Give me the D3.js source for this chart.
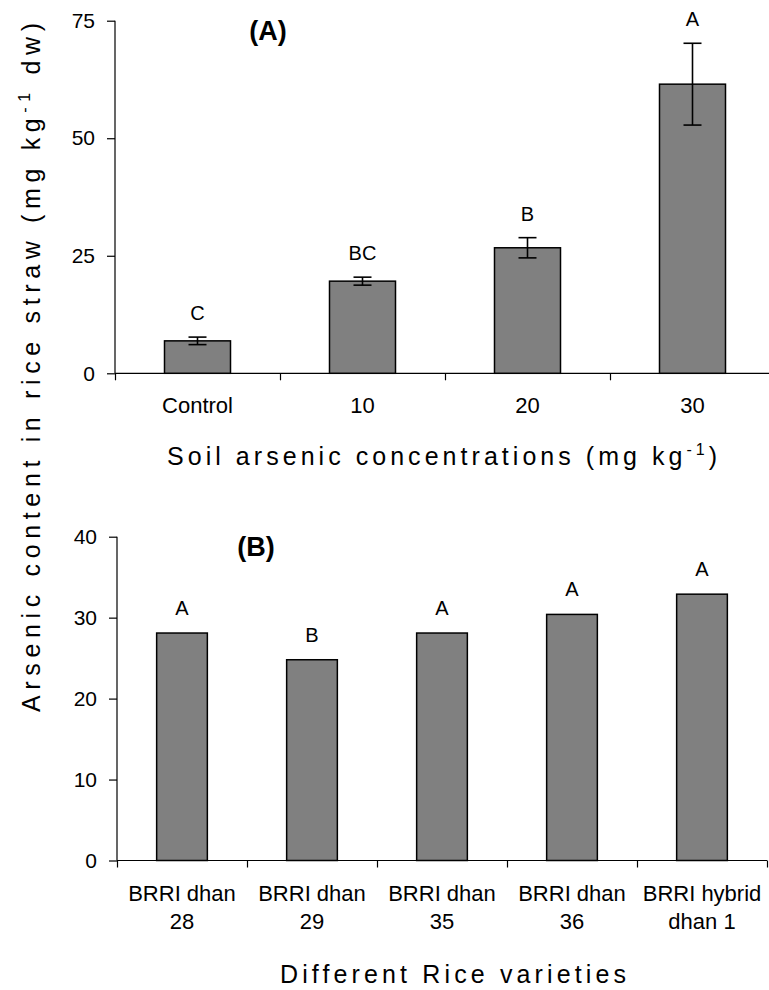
<!DOCTYPE html>
<html>
<head>
<meta charset="utf-8">
<script src="https://cdn.jsdelivr.net/npm/d3@7/dist/d3.min.js"></script>
<style>
  html, body { margin: 0; padding: 0; background: #fff; }
  svg text { font-family: "Liberation Sans", Arial, Helvetica, sans-serif; fill: #000; }
</style>
</head>
<body>
<svg id="chart" width="769" height="990"></svg>
<script>
// ---------- data ----------
const categoriesA = ["Control", "10", "20", "30"];
const valuesA = [6.9, 19.6, 26.7, 61.5];
const errorsA = [0.8, 0.85, 2.15, 8.7];
const lettersA = ["C", "BC", "B", "A"];
const yTicksA = [0, 25, 50, 75];

const categoriesB = ["BRRI dhan|28", "BRRI dhan|29", "BRRI dhan|35", "BRRI dhan|36", "BRRI hybrid|dhan 1"];
const valuesB = [28.1, 24.8, 28.1, 30.4, 32.9];
const lettersB = ["A", "B", "A", "A", "A"];
const yTicksB = [0, 10, 20, 30, 40];

// ---------- drawing ----------
const svg = d3.select("#chart");
const barFill = "#808080";

function panel(opts) {
  const g = svg.append("g");
  const n = opts.cats.length;
  const x = d3.scaleBand().domain(opts.cats).range(opts.xRange).paddingInner(0).paddingOuter(0);
  const xEdge = d3.scaleLinear().domain([0, n]).range(opts.xRange);
  const y = d3.scaleLinear().domain(opts.yDomain).range(opts.yRange);
  const y0 = y(0);

  // y axis
  const ya = g.append("g").attr("transform", `translate(${opts.xRange[0]},0)`)
    .call(d3.axisLeft(y).tickValues(opts.yTicks).tickSize(8).tickPadding(12).tickFormat(d3.format("d")));
  ya.selectAll("text").style("font-size", "21px");
  ya.selectAll("path,line").attr("stroke", "#000").attr("stroke-width", 1.2);
  ya.select(".domain").attr("d", `M0,${opts.yRange[1]}V${y0}`);

  // x axis (boundary ticks)
  const xa = g.append("g").attr("transform", `translate(0,${y0})`)
    .call(d3.axisBottom(xEdge).tickValues(d3.range(n + 1)).tickSize(7).tickFormat(""));
  xa.selectAll("path,line").attr("stroke", "#000").attr("stroke-width", 1.2);
  xa.select(".domain").attr("d", `M${opts.xRange[0]},0H${opts.xRange[1]}`);

  // x labels
  const xl = g.append("g").attr("transform", `translate(0,${y0})`)
    .call(d3.axisBottom(x).tickSize(0).tickPadding(opts.labelPad));
  xl.select(".domain").remove();
  xl.selectAll("text").style("font-size", "22px").each(function(d) {
    const parts = d.split("|");
    const t = d3.select(this).text(null);
    parts.forEach((p, i) => {
      t.append("tspan").attr("x", 0).attr("dy", i === 0 ? "0.71em" : "1.28em").text(p);
    });
  });

  // bars
  const bw = x.step() * opts.barFrac;
  g.selectAll("rect.bar").data(opts.vals).enter().append("rect")
    .attr("class", "bar")
    .attr("x", (d, i) => x(opts.cats[i]) + x.bandwidth() / 2 - bw / 2)
    .attr("y", d => y(d))
    .attr("width", bw)
    .attr("height", d => y0 - y(d))
    .attr("fill", barFill)
    .attr("stroke", "#000")
    .attr("stroke-width", 1.5);

  // error bars
  if (opts.errs) {
    const eg = g.selectAll("g.err").data(opts.vals).enter().append("g").attr("class", "err")
      .attr("transform", (d, i) => `translate(${x(opts.cats[i]) + x.bandwidth() / 2},0)`);
    eg.append("line").attr("x1", 0).attr("x2", 0)
      .attr("y1", (d, i) => y(d + opts.errs[i])).attr("y2", (d, i) => y(d - opts.errs[i]));
    eg.append("line").attr("x1", -9).attr("x2", 9)
      .attr("y1", (d, i) => y(d + opts.errs[i])).attr("y2", (d, i) => y(d + opts.errs[i]));
    eg.append("line").attr("x1", -9).attr("x2", 9)
      .attr("y1", (d, i) => y(d - opts.errs[i])).attr("y2", (d, i) => y(d - opts.errs[i]));
    eg.selectAll("line").attr("stroke", "#000").attr("stroke-width", 1.6);
  }

  // letters
  g.selectAll("text.letter").data(opts.vals).enter().append("text")
    .attr("class", "letter")
    .attr("x", (d, i) => x(opts.cats[i]) + x.bandwidth() / 2)
    .attr("y", (d, i) => y(d + (opts.errs ? opts.errs[i] : 0)) - opts.letterGap)
    .attr("text-anchor", "middle")
    .style("font-size", "20px")
    .text((d, i) => opts.letters[i]);

  // panel title
  g.append("text").attr("x", opts.title[1]).attr("y", opts.title[2])
    .attr("text-anchor", "middle").style("font-size", "27px").style("font-weight", "bold")
    .text(opts.title[0]);
}

panel({
  cats: categoriesA, vals: valuesA, errs: errorsA, letters: lettersA, yTicks: yTicksA,
  xRange: [115, 775], yRange: [373.3, 20.7], yDomain: [0, 75],
  barFrac: 0.4, labelPad: 24.5, letterGap: 17, title: ["(A)", 268, 40]
});

panel({
  cats: categoriesB, vals: valuesB, errs: null, letters: lettersB, yTicks: yTicksB,
  xRange: [117, 767], yRange: [860.5, 536.7], yDomain: [0, 40],
  barFrac: 0.39, labelPad: 25, letterGap: 18, title: ["(B)", 256, 556]
});

// axis titles with fitted letter spacing
function fit(sel, target) {
  const w = sel.node().getComputedTextLength();
  const nChars = sel.text().length;
  sel.attr("letter-spacing", ((target - w) / (nChars - 1)).toFixed(2));
}

const tA = svg.append("text").attr("x", 167).attr("y", 465).style("font-size", "25px");
tA.append("tspan").text("Soil arsenic concentrations (mg kg");
tA.append("tspan").attr("dy", -10).style("font-size", "16px").text("-1");
tA.append("tspan").attr("dy", 10).text(")");
fit(tA, 550);

const tB = svg.append("text").attr("x", 280).attr("y", 983).style("font-size", "25px")
  .text("Different Rice varieties");
fit(tB, 346);

const tY = svg.append("text").attr("transform", "translate(40,712) rotate(-90)").style("font-size", "25px");
tY.append("tspan").text("Arsenic content in rice straw (mg kg");
tY.append("tspan").attr("dy", -10).style("font-size", "16px").text("-1");
tY.append("tspan").attr("dy", 10).text(" dw)");
fit(tY, 689);
</script>
</body>
</html>
